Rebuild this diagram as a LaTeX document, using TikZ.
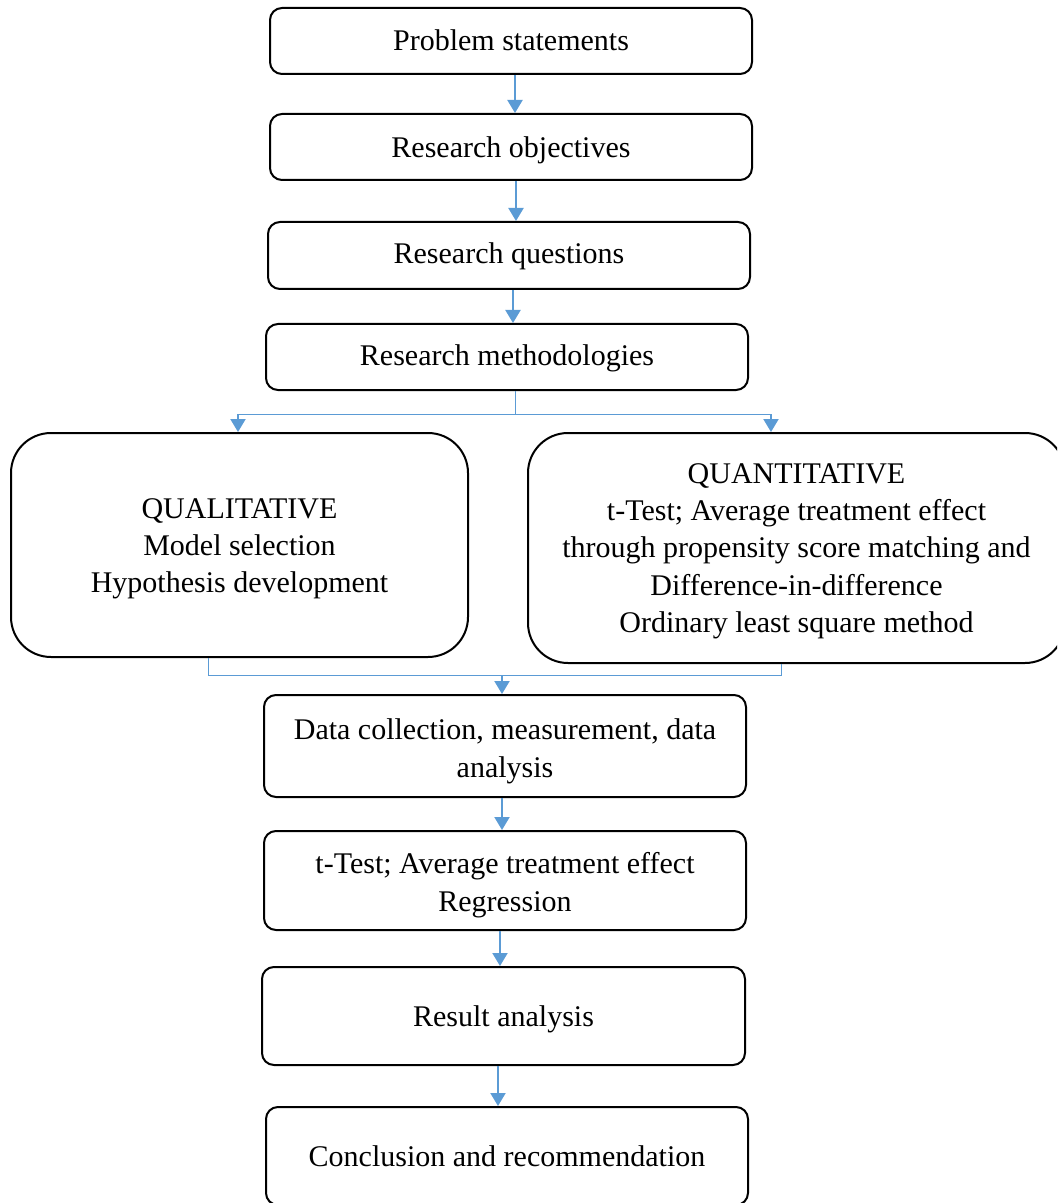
\documentclass[tikz,border=0pt]{standalone}
\usepackage{fontspec}
\setmainfont{Liberation Serif}
\usetikzlibrary{arrows.meta}
\definecolor{arrowblue}{HTML}{5B9BD5}
\newcommand{\dn}[2]{\raisebox{-#1}[\height][\depth]{\begin{tabular}{@{}c@{}}#2\end{tabular}}}
\tikzset{
  box/.style={draw=black, line width=1pt, rounded corners=6pt, inner sep=0pt, align=center,
    font=\fontsize{15}{18.6}\selectfont},
  bigbox/.style={box, rounded corners=20pt},
  arr/.style={draw=arrowblue, line width=1pt, -{Triangle[length=6.5pt,width=7.5pt]}},
  thinline/.style={draw=arrowblue, line width=0.5pt}
}
\begin{document}
\begin{tikzpicture}[x=0.5pt,y=-0.5pt]
\useasboundingbox (0,0) rectangle (1057,1203);
\clip (0,0) rectangle (1057,1203);
\fill[white] (0,0) rectangle (1057,1203);

\node[box, minimum width=241pt, minimum height=33pt] (n1) at (511,41) {\dn{1.2pt}{Problem statements}};
\node[box, minimum width=241pt, minimum height=33pt] (n2) at (511,147) {\dn{1.5pt}{Research objectives}};
\node[box, minimum width=241pt, minimum height=33.5pt] (n3) at (509,255.5) {\dn{0.5pt}{Research questions}};
\node[box, minimum width=241pt, minimum height=33pt] (n4) at (507,357) {\dn{0.5pt}{Research methodologies}};
\node[bigbox, minimum width=228.5pt, minimum height=112pt] (n5) at (239.5,545)
  {\dn{1.5pt}{QUALITATIVE\\Model selection\\Hypothesis development}};
\node[bigbox, minimum width=268.5pt, minimum height=115pt] (n6) at (796.5,548)
  {\dn{1.2pt}{QUANTITATIVE\\t-Test; Average treatment effect\\through propensity score matching and\\Difference-in-difference\\Ordinary least square method}};
\node[box, minimum width=241pt, minimum height=51pt] (n7) at (505,746)
  {\dn{2.5pt}{Data collection, measurement, data\\analysis}};
\node[box, minimum width=241pt, minimum height=49.5pt] (n8) at (505,880.5)
  {\dn{2.25pt}{t-Test; Average treatment effect\\Regression}};
\node[box, minimum width=241.5pt, minimum height=49pt] (n9) at (503.5,1016) {\dn{1.5pt}{Result analysis}};
\node[box, minimum width=241pt, minimum height=49pt] (n10) at (507,1156) {\dn{1.5pt}{Conclusion and recommendation}};

% straight arrows
\coordinate (a1) at (515,0);
\coordinate (a2) at (516,0);
\coordinate (a3) at (513,0);
\draw[arr] (n1.south -| a1) -- (n2.north -| a1);
\draw[arr] (n2.south -| a2) -- (n3.north -| a2);
\draw[arr] (n3.south -| a3) -- (n4.north -| a3);

% branch
\coordinate (bm) at (515,414);
\coordinate (bl) at (238,414);
\coordinate (br) at (771,414);
\draw[thinline] (n4.south -| bm) -- (bm);
\draw[thinline] (bl) -- (br);
\draw[arr] (bl) -- (bl |- n5.north);
\draw[arr] (br) -- (br |- n6.north);

% join
\coordinate (jl) at (208,675);
\coordinate (jr) at (781,675);
\coordinate (jm) at (502,675);
\draw[thinline] (n5.south -| jl) -- (jl) -- (jr) -- (n6.south -| jr);
\draw[arr] (jm) -- (jm |- n7.north);

\coordinate (a7) at (502,0);
\coordinate (a8) at (500,0);
\coordinate (a9) at (498,0);
\draw[arr] (n7.south -| a7) -- (n8.north -| a7);
\draw[arr] (n8.south -| a8) -- (n9.north -| a8);
\draw[arr] (n9.south -| a9) -- (n10.north -| a9);
\end{tikzpicture}
\end{document}
